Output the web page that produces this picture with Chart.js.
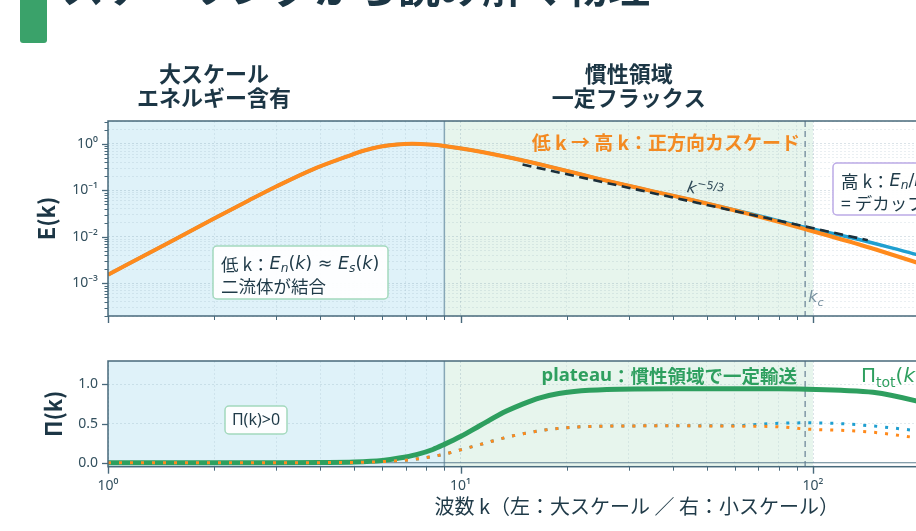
<!DOCTYPE html>
<html><head><meta charset="utf-8">
<script src="https://cdn.jsdelivr.net/npm/chart.js@4.4.1/dist/chart.umd.min.js"></script>
<style>
html,body{margin:0;padding:0;background:#fff;overflow:hidden;width:916px;height:531px;}
#wrap{position:relative;width:1200px;height:531px;}
canvas{position:absolute;left:0;top:0;}
</style></head><body>
<div id="wrap">
<canvas id="cE" width="1200" height="531"></canvas>
<canvas id="cP" width="1200" height="531"></canvas>
</div>
<script>
// ---------------- data ----------------
const kE  = [1, 1.5, 2, 2.5, 3, 3.8, 4.75, 5.3, 5.9, 6.6, 7.3, 8.2, 9, 11.4, 14.1, 18, 25, 34.5, 45, 66, 96, 136, 192, 300, 600];
const E_s = [0.00154, 0.0078, 0.025, 0.06, 0.121, 0.28, 0.53, 0.71, 0.87, 0.97, 1.0, 0.965, 0.9, 0.68, 0.49, 0.32, 0.173, 0.099, 0.063, 0.031, 0.0144, 0.0068, 0.003, 0.00099, 0.00014];
const E_n = [0.00154, 0.0078, 0.025, 0.06, 0.121, 0.28, 0.53, 0.71, 0.87, 0.97, 1.0, 0.965, 0.9, 0.68, 0.49, 0.32, 0.173, 0.099, 0.063, 0.032, 0.0158, 0.0087, 0.0044, 0.0019, 0.0004];
const kRef = [15, 143];
const ERef = [0.36, 0.0085];
const kP    = [1, 2, 3, 4, 5, 6, 6.7, 7.5, 8.35, 9, 10, 11.4, 13.5, 15, 16.8, 19, 21, 26, 40, 60, 80, 96, 120, 148, 196, 300];
const PiTot = [0, 0, 0.001, 0.004, 0.01, 0.03, 0.06, 0.105, 0.17, 0.235, 0.335, 0.48, 0.66, 0.75, 0.83, 0.885, 0.91, 0.935, 0.945, 0.945, 0.945, 0.94, 0.925, 0.9, 0.79, 0.55];
const PiS   = [0, 0, 0.0005, 0.002, 0.005, 0.015, 0.028, 0.048, 0.08, 0.11, 0.165, 0.235, 0.325, 0.37, 0.41, 0.44, 0.455, 0.468, 0.472, 0.468, 0.46, 0.43, 0.415, 0.39, 0.32, 0.2];
const PiN   = [0, 0, 0.0005, 0.002, 0.005, 0.015, 0.028, 0.048, 0.08, 0.11, 0.165, 0.235, 0.325, 0.37, 0.41, 0.44, 0.455, 0.468, 0.472, 0.475, 0.505, 0.51, 0.5, 0.47, 0.41, 0.3];
const kLow = 9, kHigh = 100, kC = 95;
const xTickLabels  = ['10⁰', '10¹', '10²', '10³'];
const yTickLabelsE = ['10⁻³', '10⁻²', '10⁻¹', '10⁰'];
const yTickValuesP = [0, 0.5, 1.0];
const yTickLabelsP = ['0.0', '0.5', '1.0'];
const headerLeft  = ['大スケール', 'エネルギー含有'];
const headerMid   = ['慣性領域', '一定フラックス'];
const titleText = 'スケーリングから読み解く物理';

// ---------------- style ----------------
const F  = '"Noto Sans CJK JP","Noto Sans",sans-serif';
const FL = '"Noto Sans","Noto Sans CJK JP",sans-serif';
const FM = '"DejaVu Sans","Noto Sans",sans-serif';
const C = {
  frame:'#48697b', tick:'#33505e', dark:'#1c3645',
  orange:'#ff8a1c', orangeTxt:'#f38a22', blue:'#1f9fd0', green:'#2e9f5f',
  fillBlue:'#dff2f9', fillGreen:'#e7f5ed', vline:'#86a6b6', kc:'#7891a0'
};
Chart.defaults.font.family = F;

function logTicks(scale){
  const out=[]; const lo=Math.floor(Math.log10(scale.min)-1e-9), hi=Math.ceil(Math.log10(scale.max)+1e-9);
  for(let e=lo;e<=hi;e++) for(let m=1;m<10;m++){
    const v=m*Math.pow(10,e);
    if(v>=scale.min*0.9999 && v<=scale.max*1.0001) out.push({value:v, major:m===1});
  }
  scale.ticks=out;
}
const gridColor = ctx => (ctx.tick && ctx.tick.major) ? 'rgba(95,130,150,0.28)' : 'rgba(95,130,150,0.16)';

function segFont(s,size){
  const sz=(s.sub||s.sup)?size*0.7:size;
  const fam = s.m ? FM : (s.i||s.l) ? FL : F;
  return (s.i?'italic ':'')+(s.b?'bold ':'')+sz+'px '+fam;
}
function drawRich(ctx,x,y,segs,size,color,align){
  ctx.save(); ctx.fillStyle=color; ctx.textBaseline='middle'; ctx.textAlign='left';
  let w=0; segs.forEach(s=>{ctx.font=segFont(s,size); w+=ctx.measureText(s.t).width;});
  let cx = align==='right'? x-w : align==='center'? x-w/2 : x;
  segs.forEach(s=>{ctx.font=segFont(s,size);
    const dy = s.sub? size*0.3 : s.sup? -size*0.38 : 0;
    ctx.fillText(s.t,cx,y+dy); cx+=ctx.measureText(s.t).width;});
  ctx.restore(); return w;
}
function box(ctx,x,y,w,h,stroke){
  ctx.save(); ctx.beginPath(); ctx.roundRect(x,y,w,h,4);
  ctx.fillStyle='rgba(255,255,255,0.93)'; ctx.fill();
  ctx.lineWidth=1.5; ctx.strokeStyle=stroke; ctx.stroke(); ctx.restore();
}
function shade(chart){
  const {ctx,chartArea:a,scales:{x}}=chart;
  const x0=x.getPixelForValue(1), x1=x.getPixelForValue(kLow), x2=x.getPixelForValue(kHigh);
  ctx.save();
  ctx.fillStyle=C.fillBlue; ctx.fillRect(x0,a.top,x1-x0,a.bottom-a.top);
  ctx.fillStyle=C.fillGreen; ctx.fillRect(x1,a.top,x2-x1,a.bottom-a.top);
  ctx.restore();
}
function vlines(chart){
  const {ctx,chartArea:a,scales:{x}}=chart;
  ctx.save();
  let px=x.getPixelForValue(kLow);
  ctx.strokeStyle=C.vline; ctx.lineWidth=1.5;
  ctx.beginPath(); ctx.moveTo(px,a.top); ctx.lineTo(px,a.bottom); ctx.stroke();
  px=x.getPixelForValue(kC);
  ctx.strokeStyle=C.kc; ctx.lineWidth=1.4; ctx.setLineDash([6,4]);
  ctx.beginPath(); ctx.moveTo(px,a.top); ctx.lineTo(px,a.bottom); ctx.stroke();
  ctx.restore();
}
function frameTicks(chart){
  const {ctx,chartArea:a,scales:{x,y}}=chart;
  ctx.save();
  ctx.strokeStyle=C.frame; ctx.lineWidth=1.5;
  ctx.strokeRect(a.left,a.top,a.right-a.left,a.bottom-a.top);
  x.ticks.forEach(t=>{const px=Math.round(x.getPixelForValue(t.value))+0.5; const L=t.major?7:4;
    ctx.lineWidth=t.major?1.4:1; ctx.beginPath(); ctx.moveTo(px,a.bottom); ctx.lineTo(px,a.bottom+L); ctx.stroke();});
  y.ticks.forEach(t=>{const py=Math.round(y.getPixelForValue(t.value))+0.5; const mj=(t.major||y.type==='linear'); const L=mj?6:3.5;
    ctx.lineWidth=mj?1.3:1; ctx.beginPath(); ctx.moveTo(a.left,py); ctx.lineTo(a.left-L,py); ctx.stroke();});
  ctx.restore();
}
function yTitle(chart,text,cx){
  const {ctx,chartArea:a}=chart;
  ctx.save(); ctx.translate(cx,(a.top+a.bottom)/2); ctx.rotate(-Math.PI/2);
  ctx.font='bold 22px '+F; ctx.fillStyle=C.dark; ctx.textAlign='center'; ctx.textBaseline='middle';
  ctx.fillText(text,0,0); ctx.restore();
}

const pluginE={
  id:'pE',
  beforeDraw(chart){shade(chart);},
  beforeDatasetsDraw(chart){vlines(chart);},
  afterDatasetsDraw(chart){
    const {ctx,scales:{x}}=chart;
    frameTicks(chart);
    drawRich(ctx,800,143,[{t:'低 k → 高 k：正方向カスケード',b:1}],19,C.orangeTxt,'right');
    ctx.save(); ctx.translate(687,188); ctx.rotate(0.19);
    drawRich(ctx,0,0,[{t:'k',i:1,m:1},{t:'−5/3',sup:1,m:1}],16,'#2d4856','left');
    ctx.restore();
    drawRich(ctx,x.getPixelForValue(kC)+3,298,[{t:'k',i:1,m:1},{t:'c',i:1,sub:1,m:1}],16,C.kc,'left');
    box(ctx,213,246,175,53,'#a3d9bd');
    drawRich(ctx,221,264,[{t:'低 k：'},{t:'E',i:1,m:1},{t:'n',i:1,sub:1,m:1},{t:'(',m:1},{t:'k',i:1,m:1},{t:') ≈ ',m:1},{t:'E',i:1,m:1},{t:'s',i:1,sub:1,m:1},{t:'(',m:1},{t:'k',i:1,m:1},{t:')',m:1}],17.5,'#1f3a48','left');
    drawRich(ctx,221,286,[{t:'二流体が結合'}],17.5,'#1f3a48','left');
    box(ctx,833,163,210,52,'#bcaae6');
    drawRich(ctx,841,181,[{t:'高 k：'},{t:'E',i:1,m:1},{t:'n',i:1,sub:1,m:1},{t:'/',m:1},{t:'E',i:1,m:1},{t:'s',i:1,sub:1,m:1},{t:' ≠ 1',m:1}],17.5,'#1f3a48','left');
    drawRich(ctx,841,203,[{t:'= デカップリング'}],17.5,'#1f3a48','left');
  },
  afterDraw(chart){
    const {ctx,scales:{x}}=chart;
    yTitle(chart,'E(k)',47);
    ctx.save();
    ctx.font='bold 22px '+F; ctx.fillStyle=C.dark; ctx.textAlign='center'; ctx.textBaseline='middle';
    const xl=x.getPixelForValue(2), xm=x.getPixelForValue(30);
    ctx.fillText(headerLeft[0],xl,74); ctx.fillText(headerLeft[1],xl,98);
    ctx.fillText(headerMid[0],xm,74); ctx.fillText(headerMid[1],xm,98);
    ctx.fillStyle='#3aa26a'; ctx.beginPath(); ctx.roundRect(20,-10,27,53,3); ctx.fill();
    ctx.font='bold 42px '+F; ctx.fillStyle=C.dark; ctx.textAlign='left'; ctx.textBaseline='alphabetic';
    ctx.fillText(titleText,62,3);
    ctx.restore();
  }
};

const pluginP={
  id:'pP',
  beforeDraw(chart){shade(chart);},
  beforeDatasetsDraw(chart){
    const {ctx,chartArea:a,scales:{y}}=chart;
    vlines(chart);
    const py=y.getPixelForValue(0);
    ctx.save(); ctx.strokeStyle='#5f7f90'; ctx.lineWidth=1.1;
    ctx.beginPath(); ctx.moveTo(a.left,py); ctx.lineTo(a.right,py); ctx.stroke(); ctx.restore();
  },
  afterDatasetsDraw(chart){
    frameTicks(chart);
    const {ctx}=chart;
    box(ctx,225,406,62,28,'#a3d9bd');
    drawRich(ctx,256,420,[{t:'Π(k)>0',l:1}],16,'#1f3a48','center');
    drawRich(ctx,797,376,[{t:'plateau',b:1,l:1},{t:'：慣性領域で一定輸送',b:1}],18.5,C.green,'right');
    drawRich(ctx,861,377,[{t:'Π',m:1},{t:'tot',sub:1,m:1},{t:'(',m:1},{t:'k',i:1,m:1},{t:')',m:1}],20,C.green,'left');
  },
  afterDraw(chart){
    const {ctx,chartArea:a}=chart;
    yTitle(chart,'Π(k)',54);
    drawRich(ctx,(a.left+a.right)/2,506,[{t:'波数 k（左：大スケール ／ 右：小スケール）'}],20,'#1f3a48','center');
  }
};

const pts=(ks,vs)=>ks.map((k,i)=>({x:k,y:vs[i]}));
const common={responsive:false,animation:false,devicePixelRatio:1,events:[],
  plugins:{legend:{display:false},tooltip:{enabled:false}}};

new Chart(document.getElementById('cE'),{
  type:'line',
  data:{datasets:[
    {data:pts(kRef,ERef),borderColor:'#1b2f3b',borderWidth:2.6,borderDash:[9,5.5],pointRadius:0,tension:0,order:-1},
    {data:pts(kE,E_s),borderColor:C.orange,borderWidth:4,pointRadius:0,cubicInterpolationMode:'monotone',order:0},
    {data:pts(kE,E_n),borderColor:C.blue,borderWidth:3.4,pointRadius:0,cubicInterpolationMode:'monotone',order:1}
  ]},
  options:{...common,
    layout:{padding:{left:0,right:34.5,top:121,bottom:205}},
    scales:{
      x:{type:'logarithmic',min:1,max:1000,afterBuildTicks:logTicks,afterFit:s=>{s.height=10;},
        ticks:{display:false,autoSkip:false},grid:{color:gridColor,lineWidth:0.8,drawTicks:false},border:{display:false,dash:[2,2]}},
      y:{type:'logarithmic',min:2e-4,max:3.1,afterBuildTicks:logTicks,afterFit:s=>{s.width=108;},
        ticks:{autoSkip:false,padding:10,color:C.tick,font:{size:14,family:FL},
          callback:(v,i,t)=>t[i].major?yTickLabelsE[Math.round(Math.log10(v))+3]:''},
        grid:{color:gridColor,lineWidth:0.8,drawTicks:false},border:{display:false,dash:[2,2]}}
    }},
  plugins:[pluginE]
});

new Chart(document.getElementById('cP'),{
  type:'line',
  data:{datasets:[
    {data:pts(kP,PiS),borderColor:C.orange,borderWidth:3,borderDash:[3,8],pointRadius:0,cubicInterpolationMode:'monotone',order:0},
    {data:pts(kP,PiN),borderColor:C.blue,borderWidth:3,borderDash:[3,8],pointRadius:0,cubicInterpolationMode:'monotone',order:1},
    {data:pts(kP,PiTot),borderColor:C.green,borderWidth:5,pointRadius:0,cubicInterpolationMode:'monotone',order:2}
  ]},
  options:{...common,
    layout:{padding:{left:0,right:34.5,top:361,bottom:24.3}},
    scales:{
      x:{type:'logarithmic',min:1,max:1000,afterBuildTicks:logTicks,afterFit:s=>{s.height=40;},
        ticks:{autoSkip:false,maxRotation:0,padding:11,color:C.tick,font:{size:14,family:FL},
          callback:(v,i,t)=>t[i].major?xTickLabels[Math.round(Math.log10(v))]:''},
        grid:{color:gridColor,lineWidth:0.8,drawTicks:false},border:{display:false,dash:[2,2]}},
      y:{type:'linear',min:-0.05,max:1.3,afterBuildTicks:s=>{s.ticks=yTickValuesP.map(v=>({value:v}));},afterFit:s=>{s.width=108;},
        ticks:{autoSkip:false,padding:10,color:C.tick,font:{size:14,family:FL},
          callback:(v)=>{const i=yTickValuesP.indexOf(v);return i>=0?yTickLabelsP[i]:'';}},
        grid:{color:ctx=>ctx.tick&&ctx.tick.value===0?'rgba(0,0,0,0)':'rgba(95,130,150,0.22)',lineWidth:0.8,drawTicks:false},border:{display:false,dash:[2,2]}}
    }},
  plugins:[pluginP]
});
</script>
</body></html>
